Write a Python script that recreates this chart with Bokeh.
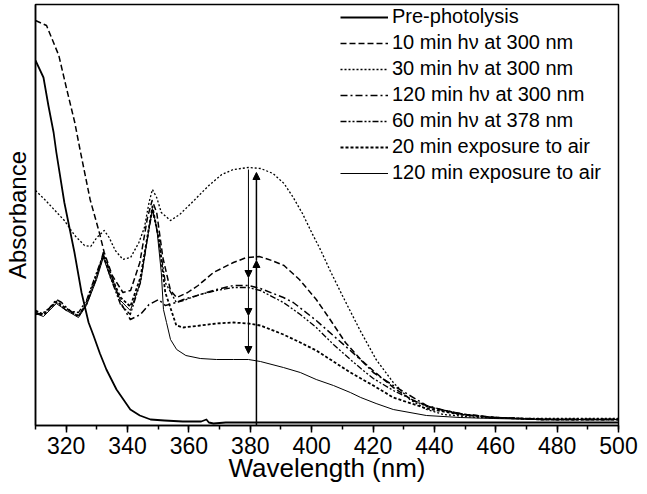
from bokeh.plotting import figure
from bokeh.models import (Range1d, Legend, LegendItem, Arrow, NormalHead,
                          ColumnDataSource, SingleIntervalTicker, FixedTicker)
from bokeh.embed import file_html
from bokeh.resources import INLINE

# ---------------- data (wavelength in nm, absorbance in arbitrary units) -------------
pre_wl = [310, 312.6, 314.2, 315.9, 316.8, 319.4, 322.7, 325.0, 327.3, 328.9, 331, 333.1,
          336.4, 340.9, 344, 347.5, 352, 358, 364, 365.7, 366.5, 368, 372, 380, 400, 420,
          440, 460, 480, 500]
pre_a = [3.65, 3.48, 3.20, 2.93, 2.73, 2.23, 1.73, 1.33, 1.03, 0.90, 0.72, 0.56,
         0.36, 0.16, 0.10, 0.06, 0.05, 0.04, 0.04, 0.06, 0.03, 0.02, 0.03, 0.03, 0.03, 0.03,
         0.03, 0.03, 0.03, 0.03]

m10_wl = [310, 313.6, 317.6, 320.2, 322.8, 324.5, 327.8, 330.8, 332.4, 335, 338.5, 341, 344,
          346.5, 348, 349.5, 351.5, 354, 356, 359.6, 363, 368, 374.5, 378.8, 382.9, 387, 391,
          396, 401.5, 406, 411, 416, 420, 426.6, 433, 440, 450, 460, 480, 500]
m10_a = [4.05, 4.00, 3.70, 3.36, 3.03, 2.76, 2.26, 1.93, 1.73, 1.50, 1.33, 1.35, 1.63,
         2.08, 2.25, 2.13, 1.68, 1.35, 1.28, 1.33, 1.40, 1.53, 1.63, 1.68, 1.69, 1.65, 1.60,
         1.46, 1.26, 1.06, 0.83, 0.66, 0.55, 0.38, 0.25, 0.17, 0.11, 0.08, 0.06, 0.06]

m30_wl = [310, 313, 319.4, 322.8, 326, 328, 330, 332.4, 334, 336, 338.5, 341, 343.7, 345.5,
          347, 348.1, 349.5, 351, 354, 357, 361, 366.5, 370.7, 374.5, 379.4, 383.4, 387.4,
          391, 394, 397, 400, 403, 406, 410, 415.8, 421, 426.6, 432, 437.5, 443, 453.8,
          470, 500]
m30_a = [2.35, 2.26, 2.05, 1.90, 1.80, 1.79, 1.88, 1.95, 1.88, 1.75, 1.66, 1.68, 1.83, 1.98,
         2.23, 2.36, 2.28, 2.13, 2.05, 2.11, 2.23, 2.40, 2.51, 2.56, 2.58, 2.57, 2.52,
         2.42, 2.28, 2.12, 1.93, 1.75, 1.55, 1.30, 0.95, 0.66, 0.43, 0.26, 0.16, 0.11, 0.08,
         0.07, 0.07]

m120_wl = [310, 312.6, 316.8, 318.5, 320.1, 322, 324.0, 326.6, 329.9, 332.1, 334.4, 337.7,
           340.9, 344.2, 347, 350.1, 352.3, 355.9, 358.2, 363.7, 369, 374.5, 379.4, 383.3,
           390.8, 394, 401.5, 404.8, 412.6, 415.9, 420.1, 426.6, 437.4, 448.4, 459.2, 475, 500]
m120_a = [1.13, 1.10, 1.26, 1.23, 1.18, 1.13, 1.10, 1.21, 1.48, 1.73, 1.53, 1.23,
          1.06, 1.11, 1.21, 1.26, 1.20, 1.23, 1.26, 1.31, 1.36, 1.40, 1.40, 1.37,
          1.28, 1.23, 1.05, 0.96, 0.75, 0.66, 0.53, 0.40, 0.20, 0.11, 0.08, 0.06, 0.06]

m60_wl = [310, 312.6, 316.8, 320.1, 324, 326.6, 329.9, 332.1, 334.4, 337.7, 340.9, 344.2,
          346.8, 348.1, 350.1, 352.3, 355.9, 358.2, 363.7, 369, 374.5, 379.4, 383.3, 390.8,
          396.3, 401.5, 407.1, 412.6, 416.8, 420.1, 426.6, 437.4, 448.4, 459.2, 475, 500]
m60_a = [1.11, 1.13, 1.23, 1.15, 1.13, 1.25, 1.53, 1.71, 1.48, 1.21, 1.11, 1.43,
         1.93, 2.15, 1.88, 1.43, 1.23, 1.25, 1.31, 1.35, 1.38, 1.38, 1.35, 1.23,
         1.11, 0.98, 0.81, 0.66, 0.55, 0.47, 0.35, 0.19, 0.12, 0.08, 0.06, 0.06]

air20_wl = [310, 312.6, 316.8, 320.1, 324, 326.6, 329.9, 332.1, 334.4, 337.7, 340.9, 344.2,
            346.8, 348.1, 350.1, 352.3, 355.9, 358.2, 363.7, 369, 374.5, 379.4, 383.3, 390.8,
            396.3, 401.5, 407.1, 412.6, 420.1, 426.6, 437.4, 448.4, 459.2, 475, 500]
air20_a = [1.15, 1.11, 1.24, 1.17, 1.09, 1.23, 1.50, 1.70, 1.51, 1.28, 1.19, 1.48,
           1.95, 2.19, 1.88, 1.33, 1.00, 0.98, 1.00, 1.02, 1.03, 1.02, 1.00, 0.91,
           0.83, 0.75, 0.64, 0.53, 0.40, 0.28, 0.17, 0.11, 0.08, 0.06, 0.06]

air120_wl = [310, 312.6, 316.8, 320.1, 324, 326.6, 329.9, 332.1, 334.4, 337.7, 340.9, 344.2,
             346.8, 348.1, 349.5, 351, 351.7, 352.7, 354, 356, 359, 363.7, 369, 374.5, 379.4,
             383.3, 390.8, 396.3, 401.5, 407.1, 412.6, 416, 421, 426.6, 437.4, 448.4, 459.2,
             475, 500]
air120_a = [1.12, 1.09, 1.22, 1.15, 1.08, 1.20, 1.46, 1.68, 1.48, 1.25, 1.15, 1.43,
            1.93, 2.17, 1.98, 1.53, 1.16, 1.03, 0.86, 0.76, 0.70, 0.67, 0.66, 0.66, 0.66,
            0.64, 0.58, 0.53, 0.46, 0.40, 0.33, 0.28, 0.22, 0.16, 0.10, 0.08, 0.07,
            0.06, 0.06]

labels = ["Pre-photolysis", "10 min h\u03bd at 300 nm", "30 min h\u03bd at 300 nm",
          "120 min h\u03bd at 300 nm", "60 min h\u03bd at 378 nm",
          "20 min exposure to air", "120 min exposure to air"]

# arrows: decreasing arrow (with several heads) and increasing arrow
arrow_down_wl = 379.4
arrow_down_levels = [2.56, 1.48, 1.10, 0.72]
arrow_up_wl = 382.0
arrow_up_levels = [0.0, 1.65, 2.53]

x_ticks_interval = 20

# ---------------- figure ----------------
FONT = "Liberation Sans"
p = figure(frame_width=583, frame_height=421, x_range=Range1d(310, 500),
           y_range=Range1d(0, 4.21),
           output_backend="svg", toolbar_location=None,
           min_border_left=34, min_border_right=22, min_border_top=4, min_border_bottom=61)
p.styles = {"margin-bottom": "-40px"}
p.xgrid.visible = False
p.ygrid.visible = False
p.outline_line_color = "black"
p.outline_line_width = 1.5
p.background_fill_color = "white"
p.border_fill_color = "white"

xa = p.xaxis[0]
xa.ticker = SingleIntervalTicker(interval=x_ticks_interval, num_minor_ticks=2)
xa.major_tick_out = 7
xa.major_tick_in = 0
xa.minor_tick_out = 4
xa.minor_tick_in = 0
xa.axis_line_width = 1.5
xa.major_tick_line_width = 1.5
xa.minor_tick_line_width = 1.5
xa.major_label_text_font = FONT
xa.major_label_text_font_size = "23px"
xa.major_label_text_color = "black"
xa.major_label_standoff = 4
xa.axis_label = "Wavelength (nm)"
xa.axis_label_text_font = FONT
xa.axis_label_text_font_size = "26px"
xa.axis_label_text_font_style = "normal"
xa.axis_label_text_color = "black"
xa.axis_label_standoff = -4

ya = p.yaxis[0]
ya.ticker = FixedTicker(ticks=[])
ya.major_tick_out = 0
ya.major_tick_in = 0
ya.minor_tick_out = 0
ya.minor_tick_in = 0
ya.axis_line_width = 1.5
ya.axis_label = "Absorbance"
ya.axis_label_text_font = FONT
ya.axis_label_text_font_size = "24px"
ya.axis_label_text_font_style = "normal"
ya.axis_label_text_color = "black"
ya.axis_label_standoff = 5

series = [
    (pre_wl, pre_a, dict(line_width=1.8)),
    (m10_wl, m10_a, dict(line_width=1.5, line_dash="6 3")),
    (m30_wl, m30_a, dict(line_width=1.3, line_dash="2 2")),
    (m120_wl, m120_a, dict(line_width=1.5, line_dash="7 3 2 3")),
    (m60_wl, m60_a, dict(line_width=1.3, line_dash="6 2 2 2 2 2")),
    (air20_wl, air20_a, dict(line_width=1.8, line_dash="3 2")),
    (air120_wl, air120_a, dict(line_width=1.0)),
]
renderers = []
for xs, ys, style in series:
    r = p.line(xs, ys, line_color="black", line_join="round", **style)
    renderers.append(r)

legend = Legend(items=[LegendItem(label=l, renderers=[r]) for l, r in zip(labels, renderers)],
                location=(305, 241), orientation="vertical",
                border_line_color=None, background_fill_alpha=0,
                padding=0, margin=0, spacing=3,
                glyph_width=48, glyph_height=22, label_height=22, label_standoff=4,
                label_text_font=FONT, label_text_font_size="20px", label_text_color="black")
p.add_layout(legend)

def add_arrows(wl, levels, width):
    src = ColumnDataSource(dict(x0=[wl] * (len(levels) - 1), y0=levels[:-1],
                                x1=[wl] * (len(levels) - 1), y1=levels[1:]))
    p.add_layout(Arrow(end=NormalHead(size=7, fill_color="black", line_color="black",
                                      line_width=1),
                       x_start="x0", y_start="y0", x_end="x1", y_end="y1",
                       line_color="black", line_width=width, source=src))

add_arrows(arrow_down_wl, arrow_down_levels, 1.0)
add_arrows(arrow_up_wl, arrow_up_levels, 1.5)

open("out.html", "w").write(file_html(p, INLINE))
